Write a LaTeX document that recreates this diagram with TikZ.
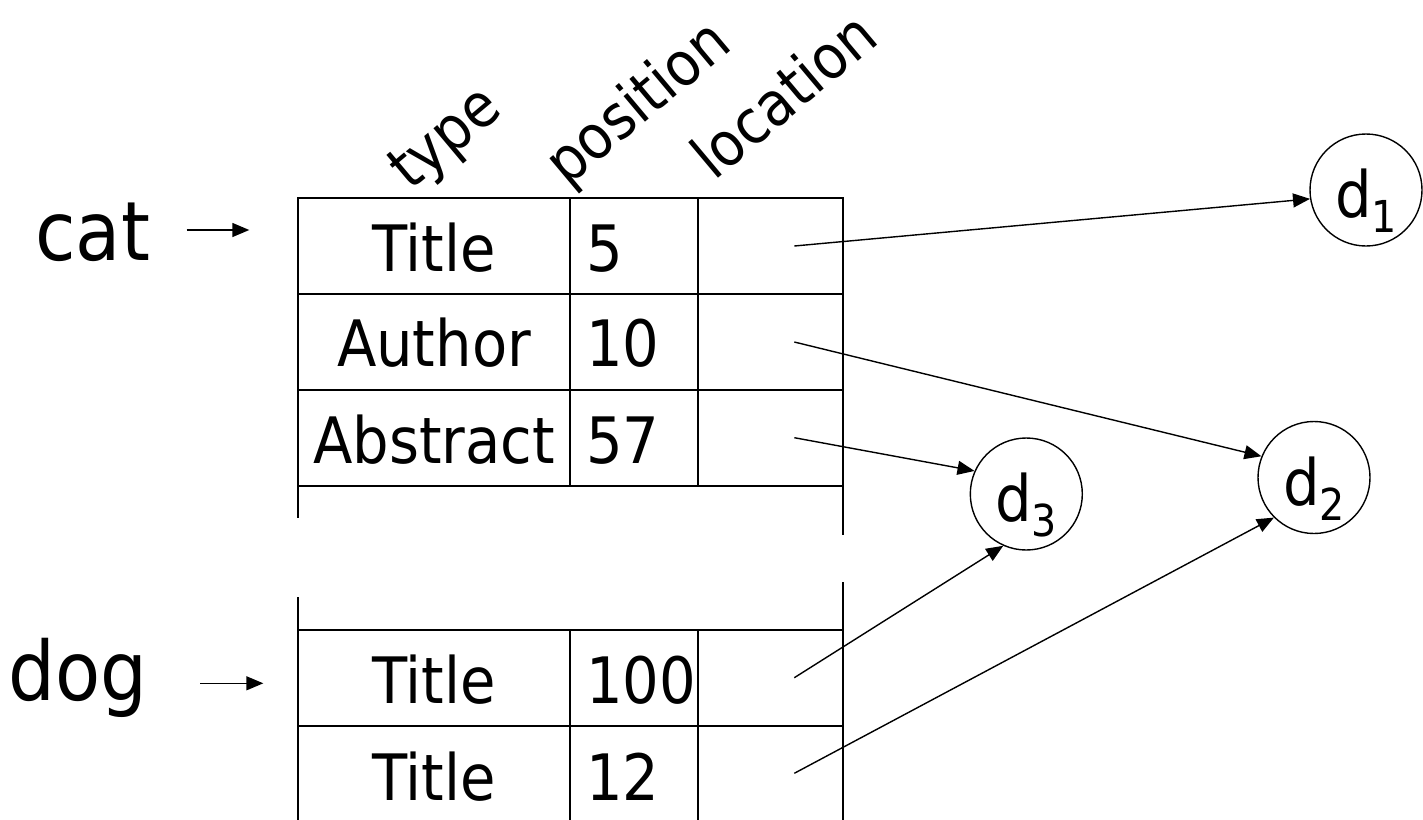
\documentclass[tikz,border=0pt]{standalone}
\usepackage{fontspec}
\setmainfont{DejaVu Sans}[FakeStretch=0.9]
\usetikzlibrary{arrows.meta}
\begin{document}
\begin{tikzpicture}[x=1pt,y=-1pt,
  tline/.style={line width=1.7pt, line cap=rect},
  cell/.style={anchor=base, font=\fontsize{64}{64}\selectfont, inner sep=0pt},
  num/.style={anchor=base west, font=\fontsize{64}{64}\selectfont, inner sep=0pt},
  word/.style={anchor=base west, font=\fontsize{82}{82}\selectfont, inner sep=0pt},
  head/.style={anchor=base west, rotate=40, font=\fontsize{61}{61}\selectfont, inner sep=0pt},
  doc/.style={circle, draw, line width=1.4pt, minimum size=112pt, inner sep=0pt},
  dlab/.style={anchor=base, font=\fontsize{64}{64}\selectfont, inner sep=0pt},
  ptr/.style={line width=1.4pt, -{Triangle[length=17pt,width=14pt]}},
]
\useasboundingbox (0,0) rectangle (1423,819);
\newcommand{\sbd}[1]{\raisebox{-15pt}{\fontsize{44}{44}\selectfont #1}}

% ---- term labels and their arrows
\node[word] (cat) at (35,260) {cat};
\node[word] (dog) at (8.5,700) {dog};
\coordinate (cs) at (186.7,230);
\coordinate (ce) at (249.3,230);
\coordinate (ds) at (200,683.3);
\coordinate (de) at (263.3,683.3);
\draw[ptr] (cs) -- (ce);
\draw[ptr] (ds) -- (de);

% ---- column headers
\node[head] (htype) at (410,192) {type};
\node[head] (hpos) at (567,188) {position};
\node[head] (hloc) at (714,182) {location};

% ---- upper table
\draw[tline] (298.3,197.7) -- (842.7,197.7);
\draw[tline] (298.3,294) -- (842.7,294);
\draw[tline] (298.3,390) -- (842.7,390);
\draw[tline] (298.3,486) -- (842.7,486);
\draw[tline] (298.3,197.7) -- (298.3,517.3);
\draw[tline] (570,197.7) -- (570,486);
\draw[tline] (698.3,197.7) -- (698.3,486);
\draw[tline] (842.7,197.7) -- (842.7,534);

\node[cell] (t1) at (434,271.7) {Title};
\node[cell] (t2) at (434,366.7) {Author};
\node[cell] (t3) at (434,463.3) {Abstract};
\node[num] (p1) at (586,271.7) {5};
\node[num] (p2) at (586,366.7) {10};
\node[num] (p3) at (586,463.3) {57};

% ---- lower table
\draw[tline] (298.3,630) -- (842.7,630);
\draw[tline] (298.3,725.7) -- (842.7,725.7);
\draw[tline] (298.3,598.3) -- (298.3,819);
\draw[tline] (570,630) -- (570,819);
\draw[tline] (698.3,630) -- (698.3,819);
\draw[tline] (842.7,582.7) -- (842.7,819);

\node[cell] (t4) at (434,703.3) {Title};
\node[cell] (t5) at (434,800) {Title};
\node[num] (p4) at (586,703.3) {100};
\node[num] (p5) at (586,800) {12};

% ---- documents
\node[doc] (d1) at (1366,190) {};
\node[doc] (d2) at (1314,477.5) {};
\node[doc] (d3) at (1026.3,494) {};
\node[dlab] (l1) at ([yshift=-27.5pt]d1.center) {d\sbd{1}};
\node[dlab] (l2) at ([yshift=-27.5pt]d2.center) {d\sbd{2}};
\node[dlab] (l3) at ([yshift=-27.5pt]d3.center) {d\sbd{3}};

% ---- location pointers
\coordinate (a1) at (794.3,246);
\coordinate (a2) at (794.3,342);
\coordinate (a3) at (794.3,437.7);
\coordinate (a4) at (794.3,677.7);
\coordinate (a5) at (794.3,773.3);
\draw[ptr] (a1) -- (d1.189);
\draw[ptr] (a2) -- (d2.158);
\draw[ptr] (a3) -- (d3.156);
\draw[ptr] (a4) -- (d3.246);
\draw[ptr] (a5) -- (d2.225);
\end{tikzpicture}
\end{document}
